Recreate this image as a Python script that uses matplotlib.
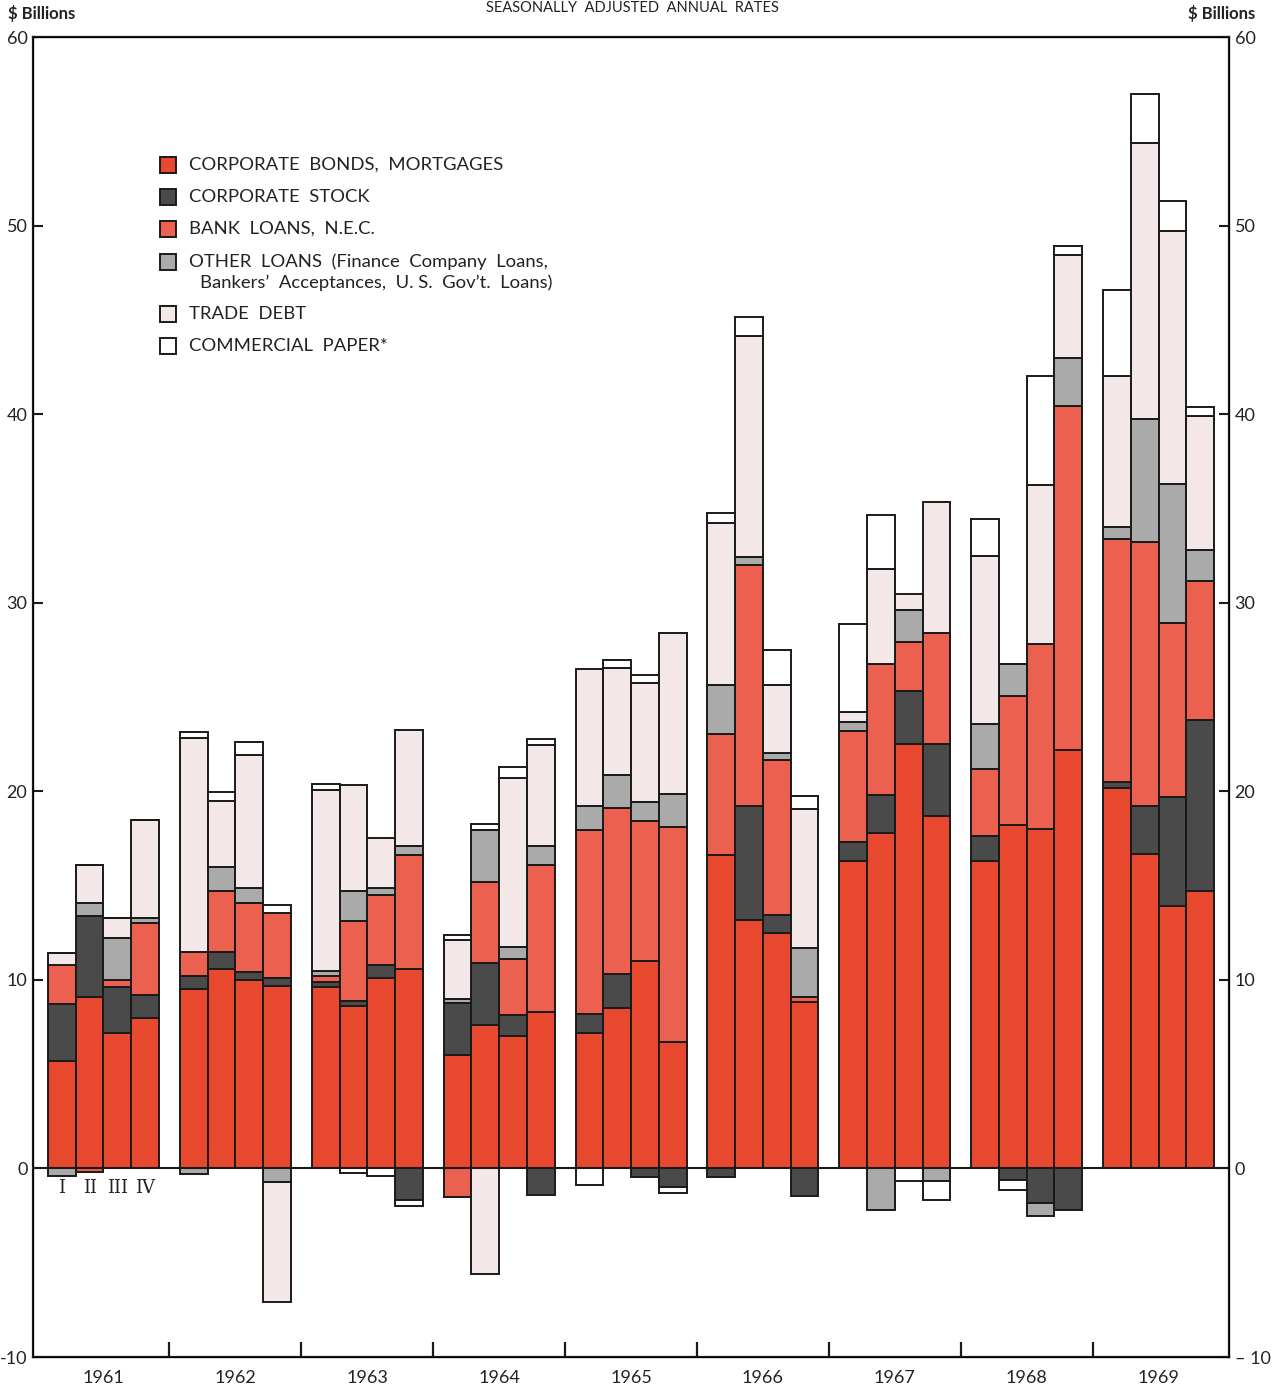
import matplotlib.pyplot as plt
from matplotlib.patches import Rectangle

# quarterly values, 1961 Q1 .. 1969 Q4, $ billions (seasonally adjusted annual rates)
years = ["1961", "1962", "1963", "1964", "1965", "1966", "1967", "1968", "1969"]
quarters = ["I", "II", "III", "IV"]

bonds = [5.7, 9.1, 7.2, 8.0, 9.5, 10.6, 10.0, 9.7, 9.6, 8.6, 10.1, 10.6,
         6.0, 7.6, 7.0, 8.3, 7.2, 8.5, 11.0, 6.7, 16.6, 13.2, 12.5, 8.8,
         16.3, 17.8, 22.5, 18.7, 16.3, 18.2, 18.0, 22.2, 20.2, 16.7, 13.9, 14.7]
stock = [3.0, 4.3, 2.4, 1.2, 0.7, 0.9, 0.4, 0.4, 0.3, 0.3, 0.7, -1.7,
         2.75, 3.3, 1.15, -1.4, 1.0, 1.8, -0.45, -1.0, -0.45, 6.0, 0.95, -1.45,
         1.0, 2.0, 2.8, 3.8, 1.35, -0.6, -1.85, -2.2, 0.3, 2.5, 5.8, 9.1]
bank = [2.1, -0.2, 0.4, 3.8, 1.3, 3.2, 3.7, 3.45, 0.3, 4.2, 3.7, 6.0,
        -1.5, 4.3, 2.95, 7.8, 9.75, 8.8, 7.45, 11.4, 6.45, 12.8, 8.2, 0.3,
        5.9, 6.95, 2.6, 5.9, 3.55, 6.85, 9.8, 18.25, 12.9, 14.0, 9.25, 7.35]
other = [-0.4, 0.7, 2.2, 0.3, -0.3, 1.3, 0.75, -0.7, 0.25, 1.6, 0.35, 0.5,
         0.25, 2.75, 0.65, 1.0, 1.25, 1.75, 1.0, 1.75, 2.6, 0.4, 0.4, 2.6,
         0.5, -2.2, 1.7, -0.65, 2.35, 1.7, -0.65, 2.55, 0.6, 6.55, 7.35, 1.65]
trade = [0.6, 2.0, 1.1, 5.2, 11.3, 3.5, 7.1, -6.4, 9.6, 5.65, 2.65, 6.15,
         3.1, -5.6, 8.95, 5.35, 7.3, 5.7, 6.3, 8.55, 8.6, 11.75, 3.6, 7.35,
         0.5, 5.05, 0.85, 6.95, 8.95, 0.0, 8.45, 5.45, 8.0, 14.65, 13.4, 7.1]
paper = [0.0, 0.0, 0.0, 0.0, 0.35, 0.45, 0.65, 0.4, 0.35, -0.25, -0.4, -0.3,
         0.3, 0.3, 0.6, 0.3, -0.9, 0.4, 0.4, -0.3, 0.5, 1.0, 1.85, 0.7,
         4.65, 2.85, -0.65, -1.0, 1.95, -0.55, 5.75, 0.45, 4.6, 2.6, 1.6, 0.5]

series = [
    ("CORPORATE  BONDS,  MORTGAGES", bonds, "#e8482d"),
    ("CORPORATE  STOCK", stock, "#4a4a4a"),
    ("BANK  LOANS,  N.E.C.", bank, "#ec6050"),
    ("OTHER  LOANS  (Finance  Company  Loans,", other, "#aaaaaa"),
    ("TRADE  DEBT", trade, "#f3e7e7"),
    ("COMMERCIAL  PAPER*", paper, "#ffffff"),
]

FONT = "Lato"
GROUP = 4.753  # spacing of year groups, in bar widths

fig = plt.figure(figsize=(12.83, 13.87), dpi=100)
ax = fig.add_axes([33 / 1283, 30 / 1387, 1196 / 1283, 1320 / 1387])

xs = [g * GROUP + k for g in range(len(years)) for k in range(4)]
pos = [0.0] * len(xs)
neg = [0.0] * len(xs)
for name, vals, color in series:
    bottoms = []
    for i, v in enumerate(vals):
        if v >= 0:
            bottoms.append(pos[i])
            pos[i] += v
        else:
            bottoms.append(neg[i])
            neg[i] += v
    ax.bar(xs, vals, bottom=bottoms, width=1, align="edge", color=color,
           edgecolor="#1a1a1a", linewidth=1.4, zorder=2)

ax.axhline(0, color="#1a1a1a", lw=1.5, zorder=3)
ax.set_xlim(-0.54, 42.56)
ax.set_ylim(-10, 60)
for s in ax.spines.values():
    s.set_linewidth(1.6)
    s.set_color("#1a1a1a")

ax.set_xticks([g * GROUP + 4 + (GROUP - 4) / 2 for g in range(len(years) - 1)])
ax.set_xticklabels([])
ax.tick_params(axis="x", direction="in", length=11, width=1.6, color="#1a1a1a")

yt = list(range(-10, 61, 10))
ax.set_yticks(yt)
ax.set_yticklabels([str(v) for v in yt], fontsize=13, family=FONT, color="#222222")
ax.tick_params(axis="y", direction="in", length=7, width=1.5, pad=4, color="#1a1a1a")
ax2 = ax.twinx()
ax2.set_ylim(-10, 60)
ax2.set_yticks(yt)
ax2.set_yticklabels(["\u2013 10" if v < 0 else str(v) for v in yt], fontsize=13,
                    family=FONT, color="#222222")
ax2.tick_params(axis="y", direction="in", length=7, width=1.5, pad=4, color="#1a1a1a")

for g, yr in enumerate(years):
    ax.text(g * GROUP + 2, -11.1, yr, ha="center", va="center", fontsize=13,
            family=FONT, color="#222222", clip_on=False)
for k, q in enumerate(quarters):
    ax.text(k + 0.5, -1.05, q, ha="center", va="center", fontsize=13,
            family="DejaVu Serif", color="#222222")

# legend drawn by hand, figure pixel positions
W, H = 1283, 1387
rows = [165, 197, 229, 262, 314, 346]
for (name, vals, color), ry in zip(series, rows):
    fig.patches.append(Rectangle((160 / W, 1 - (ry + 8) / H), 16 / W, 16 / H,
                                 transform=fig.transFigure, facecolor=color,
                                 edgecolor="#1a1a1a", linewidth=1.4))
    fig.text(189 / W, 1 - ry / H, name, ha="left", va="center", fontsize=13.3,
             family=FONT, color="#222222")
fig.text(200 / W, 1 - 283 / H, "Bankers\u2019  Acceptances,  U. S.  Gov\u2019t.  Loans)",
         ha="left", va="center", fontsize=13.3, family=FONT, color="#222222")

fig.text(8 / W, 1 - 14 / H, "$ Billions", ha="left", va="center", fontsize=12,
         fontweight="bold", family=FONT, color="#222222")
fig.text(1255 / W, 1 - 13 / H, "$ Billions", ha="right", va="center", fontsize=12,
         fontweight="bold", family=FONT, color="#222222")
fig.text(632 / W, 1 - 8 / H, "SEASONALLY  ADJUSTED  ANNUAL  RATES", ha="center",
         va="center", fontsize=10.5, family=FONT, color="#222222")

fig.savefig("out.png", dpi=100)
